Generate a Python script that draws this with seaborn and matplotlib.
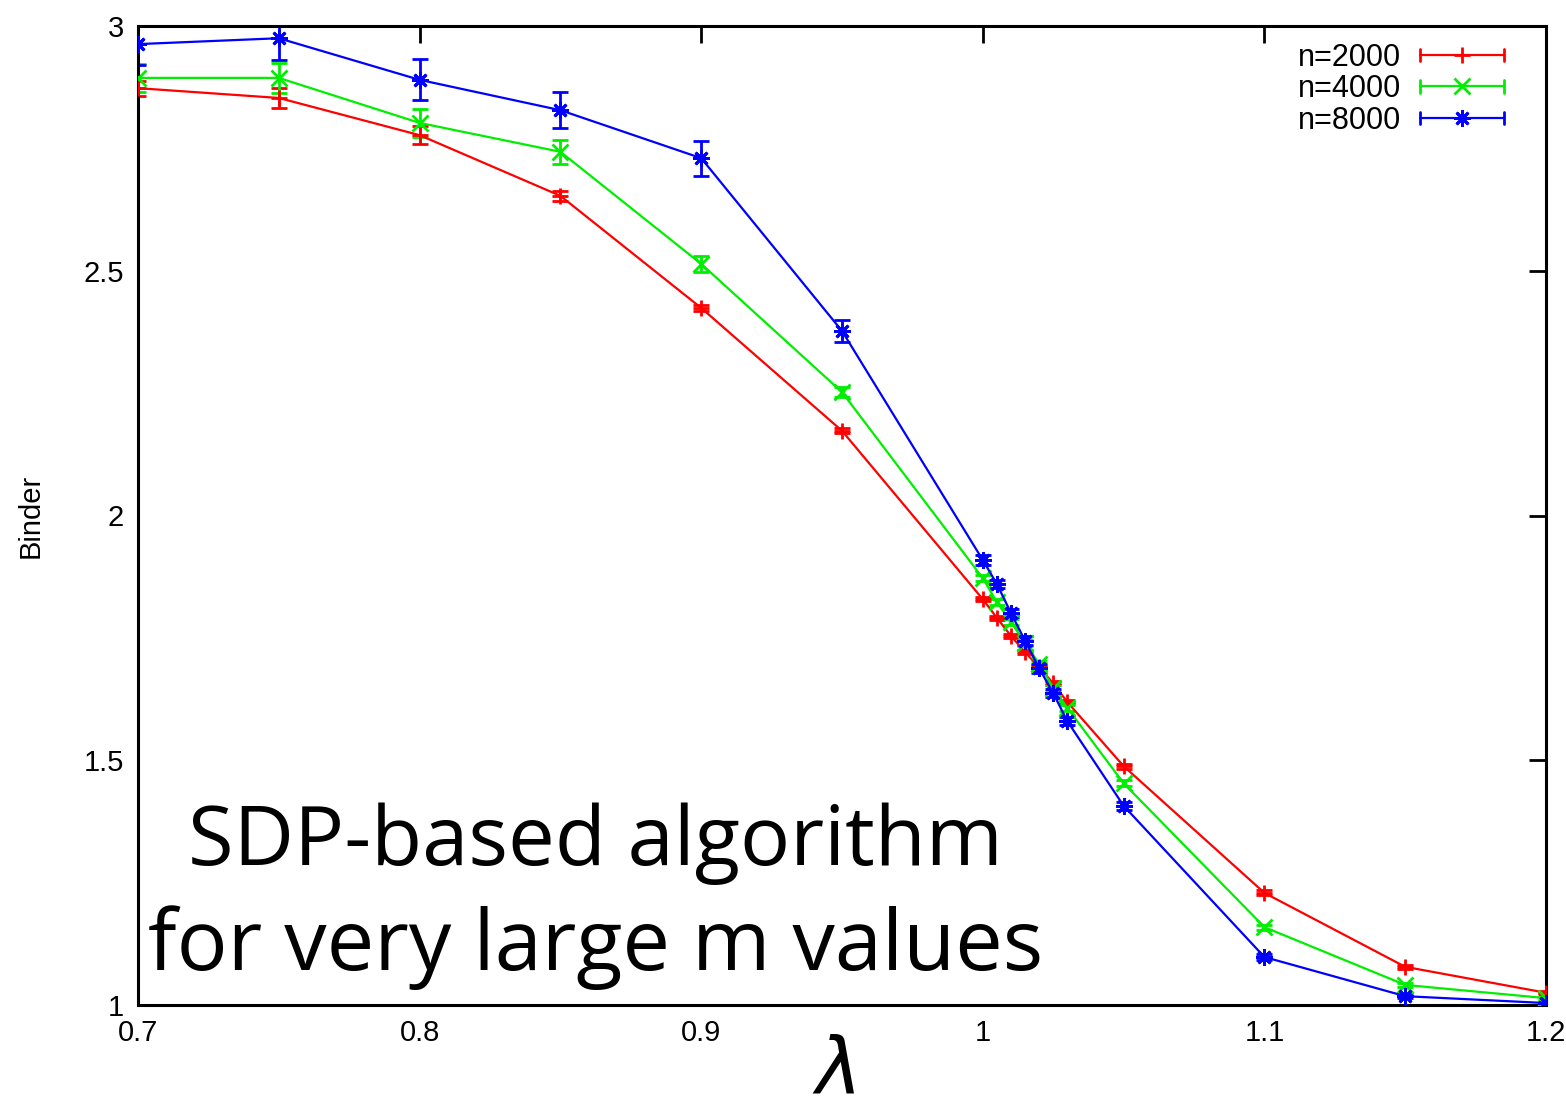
import numpy as np
import pandas as pd
import matplotlib
matplotlib.use("Agg")
import matplotlib.pyplot as plt
from matplotlib.legend_handler import HandlerBase
from matplotlib.lines import Line2D
import seaborn as sns

# Coupling values (lambda)
lam = [0.70, 0.75, 0.80, 0.85, 0.90, 0.95, 1.000, 1.005, 1.010, 1.015,
       1.020, 1.025, 1.030, 1.05, 1.10, 1.15, 1.20]

# Binder cumulant per system size
binder_2000 = [2.873, 2.853, 2.777, 2.653, 2.424, 2.173, 1.829, 1.791, 1.754,
               1.721, 1.690, 1.657, 1.619, 1.488, 1.229, 1.078, 1.025]
binder_4000 = [2.894, 2.894, 2.802, 2.743, 2.514, 2.252, 1.872, 1.823, 1.782,
               1.740, 1.697, 1.648, 1.607, 1.453, 1.159, 1.041, 1.014]
binder_8000 = [2.963, 2.975, 2.890, 2.828, 2.730, 2.377, 1.909, 1.860, 1.801,
               1.744, 1.688, 1.637, 1.580, 1.407, 1.098, 1.018, 1.004]

# Statistical errors
err_2000 = [0.015, 0.020, 0.018, 0.010, 0.006, 0.005, 0.004, 0.004, 0.004,
            0.004, 0.004, 0.004, 0.004, 0.005, 0.005, 0.004, 0.003]
err_4000 = [0.029, 0.030, 0.029, 0.025, 0.016, 0.010, 0.006, 0.006, 0.006,
            0.006, 0.006, 0.006, 0.006, 0.006, 0.005, 0.004, 0.003]
err_8000 = [0.042, 0.045, 0.042, 0.037, 0.036, 0.022, 0.010, 0.009, 0.009,
            0.009, 0.009, 0.008, 0.008, 0.008, 0.006, 0.004, 0.003]

sizes = ["n=2000", "n=4000", "n=8000"]
colors = ["#ff0000", "#00ee00", "#0000ff"]
markers = ["+", "x", (8, 2, 0)]

df = pd.concat([
    pd.DataFrame({"lambda": lam, "binder": b, "err": e, "size": s})
    for b, e, s in zip([binder_2000, binder_4000, binder_8000],
                       [err_2000, err_4000, err_8000], sizes)
], ignore_index=True)

sns.set_style("white")
plt.rcParams["font.family"] = ["Liberation Sans", "DejaVu Sans"]
plt.rcParams["text.color"] = "black"
plt.rcParams["axes.labelcolor"] = "black"

fig = plt.figure(figsize=(15.66, 11.14), dpi=100)
ax = fig.add_axes([138 / 1566, 1 - 1005 / 1114, 1408 / 1566, 979 / 1114])

MS = 12
sns.lineplot(data=df, x="lambda", y="binder", hue="size", style="size",
             hue_order=sizes, style_order=sizes, palette=colors,
             markers=dict(zip(sizes, markers)), dashes=False,
             markersize=MS, markeredgewidth=2.0, linewidth=1.6,
             legend=False, ax=ax, zorder=3)
# give the open markers the colour of their own line
for ln in ax.lines:
    ln.set_markeredgecolor(ln.get_color())
    ln.set_markerfacecolor(ln.get_color())

for s, c in zip(sizes, colors):
    sub = df[df["size"] == s]
    ax.errorbar(sub["lambda"], sub["binder"], yerr=sub["err"], fmt="none",
                ecolor=c, elinewidth=2.0, capsize=5.5, capthick=2.0, zorder=2)


class CapLineHandler(HandlerBase):
    """Legend key: horizontal line with end caps and the series marker."""

    def create_artists(self, legend, orig_handle, xdescent, ydescent,
                       width, height, fontsize, trans):
        color = orig_handle.get_color()
        y = height / 2 - ydescent
        x0, x1 = -xdescent, width - xdescent
        h = 0.3 * height
        arts = [
            Line2D([x0, x1], [y, y], color=color, lw=1.6),
            Line2D([x0, x0], [y - h, y + h], color=color, lw=2.0),
            Line2D([x1, x1], [y - h, y + h], color=color, lw=2.0),
            Line2D([(x0 + x1) / 2], [y], color=color, marker=orig_handle.get_marker(),
                   markersize=MS, markeredgewidth=2.0, linestyle="none"),
        ]
        for a in arts:
            a.set_transform(trans)
        return arts


handles = [Line2D([], [], color=c, marker=m) for c, m in zip(colors, markers)]
leg = ax.legend(handles, sizes, handler_map={Line2D: CapLineHandler()},
                loc="upper right", markerfirst=False, frameon=False,
                fontsize=22, handlelength=2.75, handletextpad=0.6,
                labelspacing=0.05, borderaxespad=0.0,
                bbox_to_anchor=(0.9786, 0.9955))

ax.set_xlim(0.7, 1.2)
ax.set_ylim(1, 3)
ax.set_xticks([0.7, 0.8, 0.9, 1.0, 1.1, 1.2])
ax.set_xticklabels(["0.7", "0.8", "0.9", "1", "1.1", "1.2"])
ax.set_yticks([1, 1.5, 2, 2.5, 3])
ax.set_yticklabels(["1", "1.5", "2", "2.5", "3"])
ax.tick_params(direction="in", length=12, width=2, labelsize=21,
               top=True, right=True, pad=10, colors="black")
for sp in ax.spines.values():
    sp.set_linewidth(2.2)
    sp.set_color("black")

ax.set_xlabel(r"$\lambda$", fontsize=56, va="bottom")
ax.xaxis.set_label_coords(0.494, -0.107)
ax.set_ylabel("Binder", fontsize=21, labelpad=28)

ax.text(0.8625, 1.286, "SDP-based algorithm", fontsize=60, ha="center",
        va="baseline", family=["Open Sans", "DejaVu Sans"], zorder=5)
ax.text(0.8625, 1.0715, "for very large m values", fontsize=61, ha="center",
        va="baseline", family=["Open Sans", "DejaVu Sans"], zorder=5)

fig.savefig("out.png", dpi=100)
